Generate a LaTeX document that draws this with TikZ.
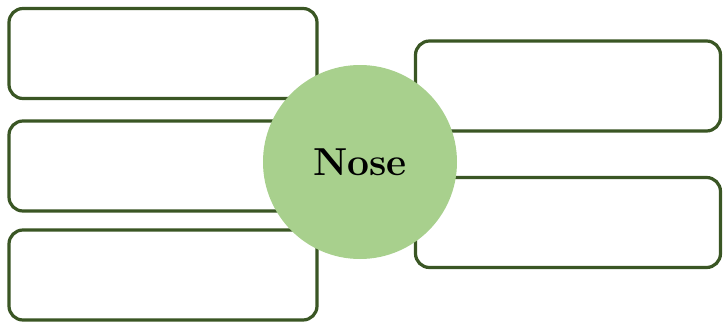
\documentclass[tikz,border=0pt]{standalone}
\usepackage{tikz}
\definecolor{boxline}{RGB}{58,86,36}
\definecolor{hubfill}{RGB}{168,208,141}
\tikzset{blank/.style = {rectangle, rounded corners=14pt, line width=3.2pt, draw=boxline, fill=white, minimum width=308pt, minimum height=90pt, inner sep=0pt},
           hub/.style = {circle, fill=hubfill, minimum size=194pt, inner sep=0pt, font=\fontsize{39}{44}\selectfont\bfseries}}

\begin{document}
\begin{tikzpicture}[x=1pt, y=1pt]
    \useasboundingbox (0,0) rectangle (724,325);
    \node[blank] (l1) at (163,271.5) {}; \node[blank] (l2) at (163,159) {}; \node[blank] (l3) at (163,50) {};
    \node[blank, minimum width=305pt] (r1) at (568,239) {}; \node[blank, minimum width=305pt] (r2) at (568,102.5) {};
    \node[hub] (nose) at (360,163) {Nose};
  \end{tikzpicture}
\end{document}
